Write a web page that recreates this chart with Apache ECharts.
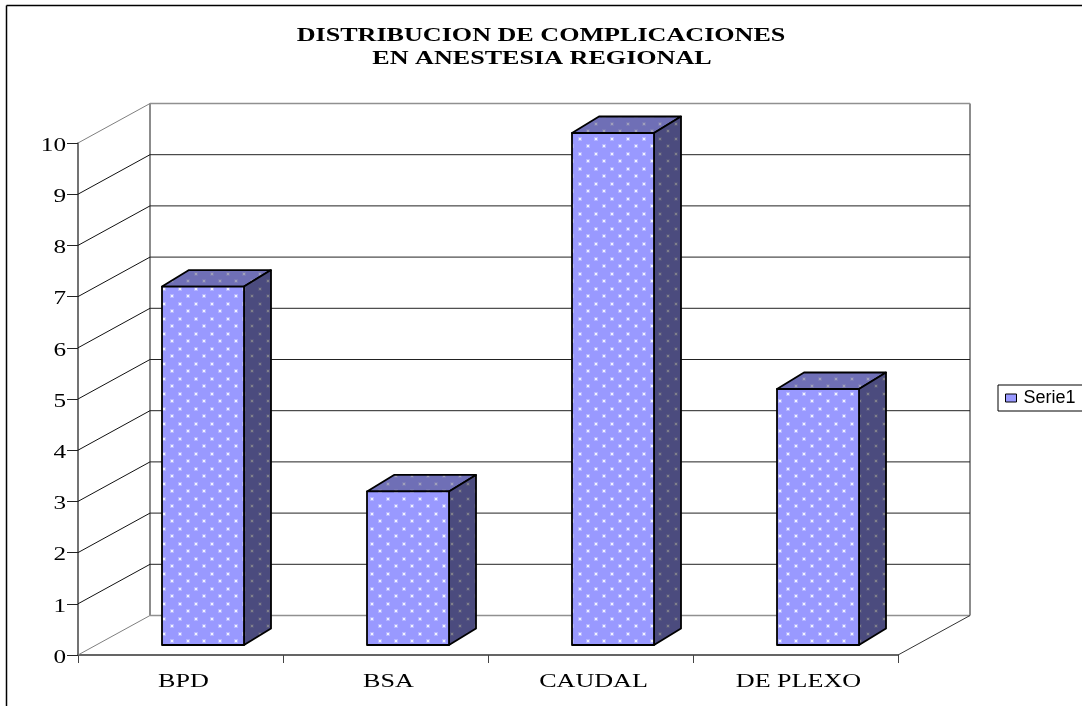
<!DOCTYPE html>
<html>
<head>
<meta charset="utf-8">
<style>html,body{margin:0;padding:0;background:#fff}#chart{width:1082px;height:706px}</style>
<script src="https://cdn.jsdelivr.net/npm/echarts@6/dist/echarts.min.js"></script>
</head>
<body>
<div id="chart"></div>
<script>
var categories = ['BPD', 'BSA', 'CAUDAL', 'DE PLEXO'];
var values = [7, 3, 10, 5];
var yTicks = [0, 1, 2, 3, 4, 5, 6, 7, 8, 9, 10];
var titleLines = ['DISTRIBUCION DE COMPLICACIONES', 'EN ANESTESIA REGIONAL'];
var seriesName = 'Serie1';

// fondo 3D
var wallDx = 72, wallDy = -39.5;
var barW = 82, sideDx = 27, sideDy = -16.5;
var barShiftX = 22.5, barShiftY = -10;
var serif = '"Liberation Serif"';

// relleno punteado
function dots(bg, dot, halo) {
  var c = document.createElement('canvas');
  c.width = 16; c.height = 15;
  var g = c.getContext('2d');
  g.fillStyle = bg;
  g.fillRect(0, 0, 16, 15);
  [[3, 3], [11, 10]].forEach(function (p) {
    g.fillStyle = halo;
    g.fillRect(p[0] - 1, p[1] - 1, 4, 4);
    g.fillStyle = dot;
    g.fillRect(p[0], p[1], 2, 2);
  });
  return {image: c, repeat: 'repeat'};
}
var frontFill = dots('#9999ff', '#f2f3ff', '#b4b5ff');
var topFill = dots('#6f6fb6', '#a0a0bc', '#7a7ab6');
var sideFill = dots('#4b4b7e', '#80808c', '#55557f');

function stretched(text, x, y, size, sx, align, weight) {
  return {
    type: 'text', x: x, y: y, scaleX: sx, silent: true,
    style: {
      text: text, fill: '#000', font: (weight || 'normal') + ' ' + size + 'px ' + serif,
      align: align, verticalAlign: 'middle'
    }
  };
}

function renderWall(params, api) {
  var v = api.value(1);
  var cs = params.coordSys;
  var y = api.coord([0, v])[1];
  var x0 = cs.x, x1 = cs.x + cs.width;
  var edge = v === yTicks[0] || v === yTicks[yTicks.length - 1];
  var col = edge ? '#808080' : '#111';
  var kids = [
    {type: 'line', shape: {x1: x0, y1: y, x2: x0 + wallDx, y2: y + wallDy}, style: {stroke: col, lineWidth: 1}},
    {type: 'line', shape: {x1: x0 + wallDx, y1: y + wallDy, x2: x1 + wallDx, y2: y + wallDy},
      style: {stroke: edge ? '#909090' : '#222', lineWidth: edge ? 1.5 : 1}},
    stretched(String(v), 66, y + 3, 18, 1.4, 'right')
  ];
  if (v === yTicks[0]) {
    var top = api.coord([0, yTicks[yTicks.length - 1]])[1];
    kids.push({type: 'line', shape: {x1: x0 + wallDx, y1: y + wallDy, x2: x0 + wallDx, y2: top + wallDy}, style: {stroke: '#8c8c8c', lineWidth: 2}});
    kids.push({type: 'line', shape: {x1: x1 + wallDx, y1: y + wallDy, x2: x1 + wallDx, y2: top + wallDy}, style: {stroke: '#8c8c8c', lineWidth: 2}});
    kids.push({type: 'line', shape: {x1: x1, y1: y, x2: x1 + wallDx, y2: y + wallDy}, style: {stroke: '#333', lineWidth: 1}});
  }
  return {type: 'group', children: kids};
}

function renderBar(params, api) {
  var idx = api.value(0);
  var top = api.coord([idx, api.value(1)]);
  var base = api.coord([idx, 0]);
  var l = top[0] + barShiftX - barW / 2, r = l + barW;
  var t = top[1] + barShiftY, b = base[1] + barShiftY;
  var line = {stroke: '#000', lineWidth: 1.8, lineJoin: 'round'};
  function poly(pts, fill) {
    return {type: 'polygon', shape: {points: pts}, style: Object.assign({fill: fill}, line)};
  }
  return {
    type: 'group',
    children: [
      poly([[l, t], [r, t], [r + sideDx, t + sideDy], [l + sideDx, t + sideDy]], topFill),
      poly([[r, t], [r + sideDx, t + sideDy], [r + sideDx, b + sideDy], [r, b]], sideFill),
      poly([[l, t], [r, t], [r, b], [l, b]], frontFill),
      stretched(categories[idx], base[0] + 3, 682, 18, 1.45, 'center')
    ]
  };
}

var chart = echarts.init(document.getElementById('chart'), null, {renderer: 'canvas'});
chart.setOption({
  animation: false,
  backgroundColor: '#fff',
  grid: {left: 78, top: 143, width: 820, height: 512, containLabel: false},
  xAxis: {
    type: 'category',
    data: categories,
    axisLine: {lineStyle: {color: '#333', width: 1.5}},
    axisTick: {show: true, alignWithLabel: false, length: 8, lineStyle: {color: '#444', width: 1}},
    axisLabel: {show: false},
    splitLine: {show: false}
  },
  yAxis: {
    type: 'value',
    min: 0,
    max: 10,
    interval: 1,
    axisLine: {show: true, lineStyle: {color: '#444', width: 1.5}},
    axisTick: {show: true, length: 11, lineStyle: {color: '#222', width: 1}},
    axisLabel: {show: false},
    splitLine: {show: false}
  },
  legend: {
    left: 998,
    top: 385,
    orient: 'vertical',
    data: [seriesName],
    padding: [4, 12, 4, 7],
    borderColor: '#000',
    borderWidth: 1,
    itemWidth: 11,
    itemHeight: 8,
    icon: 'rect',
    itemStyle: {color: '#9999ff', borderColor: '#000', borderWidth: 1},
    textStyle: {color: '#000', fontFamily: '"Liberation Sans"', fontSize: 18, lineHeight: 18, padding: [0, 0, 0, 2]}
  },
  graphic: [
    {type: 'line', shape: {x1: 6.5, y1: 5.5, x2: 1082, y2: 5.5}, style: {stroke: '#000', lineWidth: 1.5}, silent: true},
    {type: 'line', shape: {x1: 6.5, y1: 5.5, x2: 6.5, y2: 706}, style: {stroke: '#000', lineWidth: 1.5}, silent: true},
    stretched(titleLines[0], 541, 36.5, 18, 1.45, 'center', 'bold'),
    stretched(titleLines[1], 542, 59.5, 18, 1.45, 'center', 'bold')
  ],
  series: [
    {
      type: 'custom',
      name: 'fondo',
      silent: true,
      clip: false,
      z: 1,
      renderItem: renderWall,
      encode: {x: 0, y: 1},
      data: yTicks.map(function (v) { return [0, v]; })
    },
    {
      type: 'custom',
      name: seriesName,
      clip: false,
      z: 3,
      itemStyle: {color: '#9999ff'},
      renderItem: renderBar,
      encode: {x: 0, y: 1},
      data: values.map(function (v, i) { return [i, v]; })
    }
  ]
});
</script>
</body>
</html>
